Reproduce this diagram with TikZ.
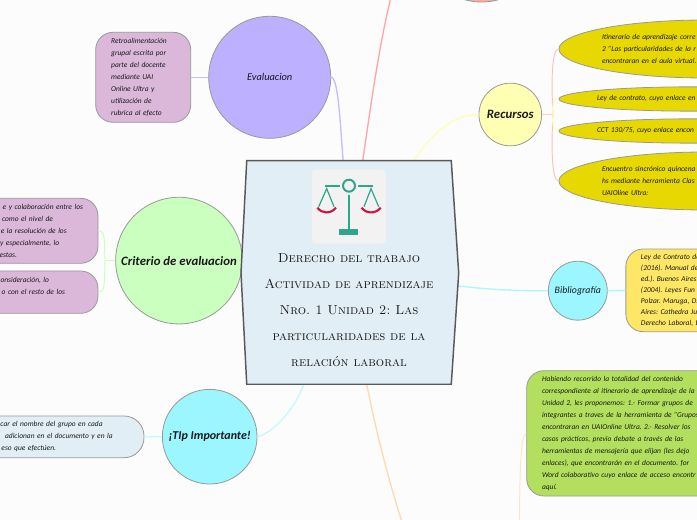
\documentclass[tikz,border=0pt]{standalone}
\usepackage{fontspec}
\setmainfont{Carlito}
\frenchspacing
\usetikzlibrary{shapes.geometric,calc}
\definecolor{cpurple}{HTML}{BDB0FF}
\definecolor{cmauve}{HTML}{DBB8DA}
\definecolor{cmint}{HTML}{CBFFC0}
\definecolor{clemon}{HTML}{FFFFB3}
\definecolor{ccyan}{HTML}{9CF6FF}
\definecolor{cmustard}{HTML}{E6D800}
\definecolor{cyellow}{HTML}{FFE766}
\definecolor{cgreen}{HTML}{B2E05E}
\definecolor{croot}{HTML}{E1EEF5}
\definecolor{cteal}{HTML}{2FA58E}
\definecolor{ccrimson}{HTML}{D0143C}
\newcommand{\gap}[1]{\rule{#1}{0pt}}
\tikzset{
  topic/.style={circle,draw=gray!80,line width=0.6pt,inner sep=0pt,
    font=\fontsize{9.6}{11}\selectfont\itshape\bfseries,text=black!90},
  leaf/.style={rectangle,rounded corners=13pt,draw=gray!80,line width=0.6pt,
    inner sep=0pt,font=\fontsize{5.6}{9}\selectfont\itshape,text=black!90},
  pill/.style={ellipse,fill=cmustard,draw=gray!80,line width=0.6pt,inner sep=0pt,
    align=left,font=\fontsize{5.6}{9}\selectfont\itshape,text=black!90},
  link/.style={line width=1pt},
  twig/.style={line width=0.7pt}
}
\begin{document}
\begin{tikzpicture}[x=0.75pt,y=-0.75pt]
  \useasboundingbox (0,0) rectangle (697,520);
  \clip (0,0) rectangle (697,520);
  \fill[white!99!black] (0,0) rectangle (697,520);

  % topics round the central box
  \node[topic,fill=red!35,minimum size=93pt] (tema) at (481.7,-60) {};
  \node[topic,fill=cpurple,minimum size=91.5pt,font=\fontsize{7.8}{10}\selectfont\itshape] (evaluacion) at (269.7,77.3) {Evaluacion};
  \node[topic,fill=clemon,minimum size=47pt] (recursos) at (510.3,114.5) {Recursos};
  \node[topic,fill=ccyan,minimum size=44.2pt,font=\fontsize{7.4}{10}\selectfont\itshape] (biblio) at (577.8,290.7) {Bibliografía};
  \node[topic,fill=cmint,minimum size=95pt] (criterio) at (179,260.6) {Criterio de evaluacion};
  \node[topic,fill=ccyan,minimum size=71pt,font=\fontsize{9}{11}\selectfont\itshape\bfseries] (tip) at (209.7,436.7) {¡TIp Importante!};

  % leaves
  \node[leaf,fill=cmauve,minimum width=71.25pt,minimum height=67.5pt,text width=48pt,align=left] (retro) at (143.2,77.3)
    {Retroalimentación\\grupal escrita por\\parte del docente\\mediante UAI\\Online Ultra y\\utilización de\\rubrica al efecto};
  \node[leaf,fill=cmauve,minimum width=133.5pt,minimum height=48.75pt,text width=111pt,align=right] (critA) at (9,230.8)
    {e y colaboración entre los\\como el nivel de\gap{22.5pt}\\e la resolución de los\gap{12.2pt}\\y especialmente, lo\gap{17.8pt}\\estas.\gap{49.5pt}};
  \node[leaf,fill=cmauve,minimum width=133.5pt,minimum height=31.75pt,text width=84pt,align=right] (critB) at (9,292.15)
    {onsideración, lo\gap{12pt}\\o con el resto de los\\\mbox{}};
  \node[leaf,rounded corners=15pt,fill=croot,minimum width=153pt,minimum height=31.3pt,text width=106pt,align=right] (tipbox) at (42,436.85)
    {car el nombre del grupo en cada\gap{7.5pt}\\adicionan en el documento y en la\\eso que efectúen.\gap{42.5pt}};
  \node[leaf,fill=cyellow,minimum width=130.5pt,minimum height=62pt,text width=107.8pt,align=left,font=\fontsize{5.6}{8.25}\selectfont\itshape] (bibbox) at (712.85,290.35)
    {Ley de Contrato de\\(2016). Manual de\\ed.). Buenos Aires:\\(2004). Leyes Fun\\Polzar. Maruga, D.\\Aires: Cathedra Ju\\Derecho Laboral, B};
  \node[leaf,fill=cgreen,minimum width=250pt,minimum height=94pt,text width=227pt,align=left] (actbox) at (693.35,433.35)
    {Habiendo recorrido la totalidad del contenido\\correspondiente al itinerario de aprendizaje de la\\Unidad 2, les proponemos: 1.- Formar grupos de\\integrantes a traves de la herramienta de "Grupos\\encontraran en UAIOnline Ultra. 2.- Resolver los\\casos prácticos, previo debate a través de las\\herramientas de mensajería que elijan (les dejo\\enlaces), que encontrarán en el documento. for\\Word colaborativo cuyo enlace de acceso encontr\\aquí.};

  \node[pill,minimum height=43.5pt,text width=156pt] (itinerario) at (706,49)
    {Itinerario de aprendizaje corre\\2 "Las particularidades de la r\\encontraran en el aula virtual.};
  \node[pill,minimum height=18.2pt,text width=138pt] (ley) at (689,99) {Ley de contrato, cuyo enlace en};
  \node[pill,minimum height=18.2pt,text width=138pt] (cct) at (689,131) {CCT 130/75, cuyo enlace encon};
  \node[pill,minimum height=43.5pt,text width=156pt] (encuentro) at (706,181)
    {Encuentro sincrónico quincena\\hs mediante herramienta Clas\\UAIOline Ultra:};

  \node[draw=none,minimum width=153pt,minimum height=167.25pt,inner sep=0pt] (root) at (349,272.5) {};
  \coordinate (actividad) at (430,600);
  \coordinate (actividadB) at (519,560);

  % connectors
  \draw[link,cpurple!85] (evaluacion.east) .. controls (338,77) and (340,120) .. (root.93.6);
  \draw[link,cpurple!85] (evaluacion.west) -- (retro.east);
  \draw[link,red!35] (root.83.35) .. controls (376,70) and (392,-50) .. (tema.west);
  \draw[link,clemon] (root.60.5) .. controls (435,130) and (455,114) .. (recursos.west);
  \draw[link,ccyan!85] (root.-7.5) .. controls (490,290) and (520,291) .. (biblio.west);
  \draw[link,ccyan!85] (biblio.east) -- (bibbox.west);
  \draw[link,ccyan!60] (root.248.9) .. controls (295,408) and (275,432) .. (tip.east);
  \draw[link,ccyan!60] (tip.west) -- (tipbox.east);
  \draw[link,orange!30] (root.279.8) .. controls (380,450) and (398,520) .. (actividad);
  \draw[twig,orange!22] (actividadB) .. controls (520,490) and (519,436) .. (actbox.west);
  \draw[link,cmint] (criterio.west) -- (105,260.6);
  \draw[twig,cmint] (105,260.6) .. controls (104,240) and (106,231) .. (critA.east);
  \draw[twig,cmint] (105,260.6) .. controls (104,282) and (106,292) .. (critB.east);
  \draw[link,orange!35] (recursos.east) -- (553,114.5);
  \draw[twig,red!25] (553,114.5) .. controls (551,80) and (552,49) .. (itinerario.west);
  \draw[twig,red!25] (553,114.5) .. controls (551,150) and (552,181) .. (encuentro.west);
  \draw[twig,clemon] (553,114.5) .. controls (552,105) and (553,99) .. (ley.west);
  \draw[twig,clemon] (553,114.5) .. controls (552,124) and (553,131) .. (cct.west);

  % central box
  \draw[fill=croot,draw=black!65,line width=1.1pt] (root.north west) -- (root.north east)
    -- (458.7,273) -- (root.south east) -- (root.south west) -- (241,273) -- cycle;
  \node[fill=black!5,rounded corners=3pt,minimum width=55.5pt,minimum height=55.8pt,inner sep=0pt] (icono) at (349,206.5) {};
  \draw[cteal,line width=1.5pt] (349,185.7) circle (6);
  \draw[cteal,line width=1.7pt] (325,185.7) -- (340,185.7) (358,185.7) -- (372.7,185.7);
  \draw[cteal,line width=1.7pt] (349,195) -- (349,229);
  \fill[cteal] (339.3,229) rectangle (358.3,235);
  \draw[cteal,line width=0.9pt] (318.7,206.7) -- (326.7,188.7) -- (334,206.7);
  \draw[cteal,line width=0.9pt] (364,206.7) -- (371,188.7) -- (378.7,206.7);
  \draw[ccrimson,line width=1.6pt] (317.3,207.7) .. controls (322,214) and (331,214) .. (336,207.7);
  \draw[ccrimson,line width=1.6pt] (361.7,207.7) .. controls (366,214) and (376,214) .. (380.7,207.7);
  \node[align=center,font=\fontfamily{lmr}\fontsize{9.8}{19.5}\selectfont\scshape,text=black!90] (titulo) at (349,310.5)
    {Derecho del trabajo\\Actividad de aprendizaje\\Nro. 1 Unidad 2: Las\\particularidades de la\\relación laboral};
\end{tikzpicture}
\end{document}
